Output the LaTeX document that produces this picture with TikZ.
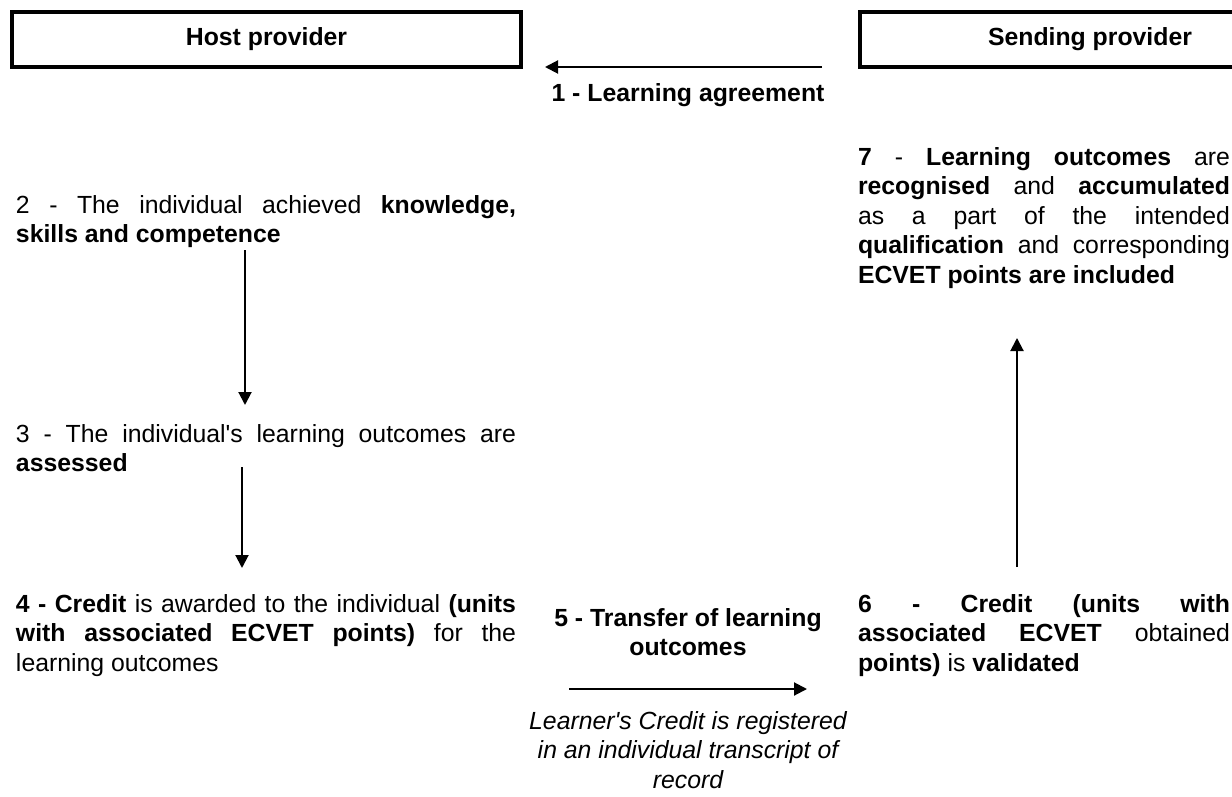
\documentclass[tikz,border=0pt]{standalone}
\usepackage{fontspec}
\setmainfont{Liberation Sans}
\usetikzlibrary{arrows.meta}
\newcommand\jline[2]{\makebox[#1][s]{#2}}
\newcommand\topstrut{\rule{0pt}{22pt}}
\frenchspacing
\begin{document}
\begin{tikzpicture}[x=1pt,y=-1pt,
  every node/.style={inner sep=0pt, outer sep=0pt},
  body/.style={font=\fontsize{24.8}{29.5}\selectfont, align=left, anchor=north west},
  steplabel/.style={font=\bfseries\fontsize{24.8}{29.5}\selectfont, align=center, anchor=north},
  note/.style={font=\itshape\fontsize{24.8}{29.5}\selectfont, align=center, anchor=north},
  provider/.style={draw, line width=4pt, minimum height=55pt, font=\bfseries\fontsize{24.8}{29.5}\selectfont},
  flow/.style={line width=2pt, -{Triangle[length=13pt,width=13pt]}}]
\useasboundingbox (0,0) rectangle (1232,797);

% provider boxes
\node[provider, minimum width=509pt] (host) at (266.5,39.5) {Host provider};
\node[provider, minimum width=460pt] (send) at (1090,39.5) {Sending provider};

% step 1
\node[steplabel] (l1) at (688,80) {\topstrut 1 - Learning agreement};

% left column
\node[body] (t2) at (16,191) {\topstrut\jline{500pt}{2 - The individual achieved \textbf{knowledge,}}\\
\textbf{skills and competence}};
\node[body] (t3) at (16,420) {\topstrut\jline{500pt}{3 - The individual\textquotesingle s learning outcomes are}\\
\textbf{assessed}};
\node[body] (t4) at (16,590) {\topstrut\jline{500pt}{\textbf{4 - Credit} is awarded to the individual \textbf{(units}}\\
\jline{500pt}{\textbf{with associated ECVET points)} for the}\\
learning outcomes};

% middle column
\node[steplabel] (l5) at (688,604) {\topstrut 5 - Transfer of learning\\outcomes};
\node[note] (n5) at (688,707) {\topstrut Learner\textquotesingle s Credit is registered\\in an individual transcript of\\record};

% right column
\node[body] (t6) at (858,590) {\topstrut\jline{372pt}{\textbf{6 - Credit (units with}}\\
\jline{372pt}{\textbf{associated ECVET} obtained}\\
\textbf{points)} is \textbf{validated}};
\node[body] (t7) at (858,143) {\topstrut\jline{372pt}{\textbf{7} - \textbf{Learning outcomes} are}\\
\jline{372pt}{\textbf{recognised} and \textbf{accumulated}}\\
\jline{372pt}{as a part of the intended}\\
\jline{372pt}{\textbf{qualification} and corresponding}\\
\textbf{ECVET points are included}};

% connector end points
\coordinate (a1s) at (822,67);
\coordinate (a1e) at (545,67);
\coordinate (a2s) at (245,250);
\coordinate (a2e) at (245,405);
\coordinate (a3s) at (242,467);
\coordinate (a3e) at (242,568);
\coordinate (a5s) at (569,689);
\coordinate (a5e) at (807,689);
\coordinate (a6s) at (1017,567);
\coordinate (a6e) at (1017,338);

\draw[flow] (a1s) -- (a1e);
\draw[flow] (a2s) -- (a2e);
\draw[flow] (a3s) -- (a3e);
\draw[flow] (a5s) -- (a5e);
\draw[flow] (a6s) -- (a6e);
\end{tikzpicture}
\end{document}
